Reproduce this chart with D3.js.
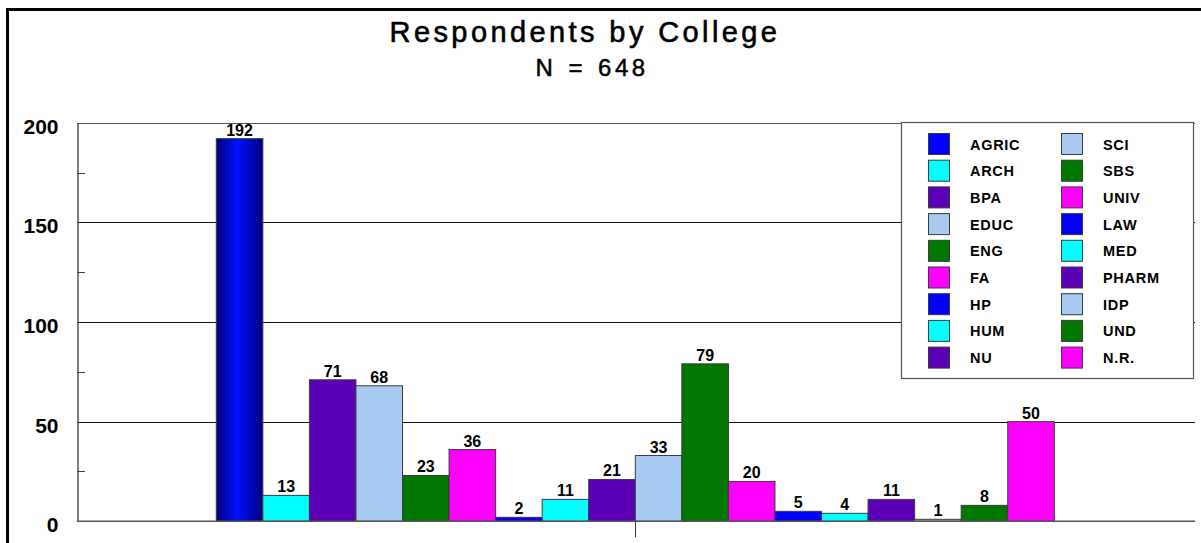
<!DOCTYPE html>
<html>
<head>
<meta charset="utf-8">
<script src="https://cdn.jsdelivr.net/npm/d3@7"></script>
<style>
  html, body { margin: 0; padding: 0; background: #fff; }
  svg { display: block; font-family: "Liberation Sans", Arial, sans-serif; }
</style>
</head>
<body>
<svg id="chart" width="1201" height="543"></svg>
<script>
// Colleges, in drawing order
const colleges = ["AGRIC", "ARCH", "BPA", "EDUC", "ENG", "FA", "HP", "HUM", "NU",
                  "SCI", "SBS", "UNIV", "LAW", "MED", "PHARM", "IDP", "UND", "N.R."];
// Respondent counts per college
const respondents = [192, 13, 71, 68, 23, 36, 2, 11, 21, 33, 79, 20, 5, 4, 11, 1, 8, 50];
// Repeating fill palette
const palette = ["#0000ff", "#00ffff", "#5c00b8", "#a6caf0", "#007800", "#ff00ff"];
// Value axis ticks
const majorTicks = [0, 50, 100, 150, 200];
const minorTicks = [25, 75, 125, 175];

const titleText = "Respondents by College";
const subtitleText = "N = 648";

const data = colleges.map((c, i) => ({ name: c, value: respondents[i], color: palette[i % palette.length] }));

const svg = d3.select("#chart");
const plot = { left: 77, right: 1195, top: 122.7, bottom: 521.3 };

const y = d3.scaleLinear().domain([0, 200]).range([plot.bottom, plot.top]);
const x = d3.scaleBand().domain(colleges).range([216.3, 1054.3]).padding(0);

// cylinder-style shading used on the first bar
const defs = svg.append("defs");
const grad = defs.append("linearGradient").attr("id", "shade").attr("x1", "0").attr("x2", "1").attr("y1", "0").attr("y2", "0");
grad.append("stop").attr("offset", "0%").attr("stop-color", "#00007a");
grad.append("stop").attr("offset", "45%").attr("stop-color", "#0010ff");
grad.append("stop").attr("offset", "100%").attr("stop-color", "#00007a");

// outer frame (left and top edges)
svg.append("line").attr("x1", 7.5).attr("x2", 7.5).attr("y1", 8).attr("y2", 543)
  .attr("stroke", "#000").attr("stroke-width", 3);
svg.append("line").attr("x1", 6).attr("x2", 1201).attr("y1", 9.5).attr("y2", 9.5)
  .attr("stroke", "#000").attr("stroke-width", 3);

// titles
svg.append("text").attr("x", 585).attr("y", 42).attr("text-anchor", "middle")
  .attr("font-size", 29).attr("letter-spacing", 3.4)
  .attr("stroke", "#000").attr("stroke-width", 0.6).text(titleText);
svg.append("text").attr("x", 592).attr("y", 76).attr("text-anchor", "middle")
  .attr("font-size", 24).attr("letter-spacing", 3.5).attr("word-spacing", 2)
  .attr("stroke", "#000").attr("stroke-width", 0.5).text(subtitleText);

// gridlines
svg.append("g").selectAll("line").data(majorTicks.filter(d => d > 0)).join("line")
  .attr("x1", plot.left).attr("x2", plot.right)
  .attr("y1", d => Math.round(y(d)) + 0.5).attr("y2", d => Math.round(y(d)) + 0.5)
  .attr("stroke", d => d === 200 ? "#555" : "#111").attr("stroke-width", 1);

// value axis
const yAxis = d3.axisLeft(y).tickValues(majorTicks).tickSize(0).tickPadding(19);
const gy = svg.append("g").attr("transform", `translate(${plot.left + 0.5},0)`).call(yAxis);
gy.select(".domain").attr("stroke", "#555").attr("stroke-width", 1.5);
gy.selectAll("text").attr("font-size", 21).attr("font-weight", "bold")
  .attr("font-family", "Liberation Sans, Arial, sans-serif").attr("fill", "#000")
  .attr("dy", "0.5em");
svg.append("g").selectAll("line").data(minorTicks).join("line")
  .attr("x1", plot.left).attr("x2", plot.left + 8)
  .attr("y1", d => Math.round(y(d)) + 0.5).attr("y2", d => Math.round(y(d)) + 0.5)
  .attr("stroke", "#444").attr("stroke-width", 1);

// bars
svg.append("g").selectAll("rect").data(data).join("rect")
  .attr("x", d => x(d.name))
  .attr("y", d => y(d.value))
  .attr("width", x.bandwidth())
  .attr("height", d => y(0) - y(d.value))
  .attr("fill", (d, i) => i === 0 ? "url(#shade)" : d.color)
  .attr("stroke", "#3a3a3a").attr("stroke-width", 1);

// value labels
svg.append("g").selectAll("text").data(data).join("text")
  .attr("x", d => x(d.name) + x.bandwidth() / 2)
  .attr("y", d => y(d.value) - 3)
  .attr("text-anchor", "middle")
  .attr("font-size", 16).attr("font-weight", "bold")
  .text(d => d.value);

// category axis: baseline with a single centre tick
svg.append("line").attr("x1", plot.left).attr("x2", plot.right)
  .attr("y1", plot.bottom).attr("y2", plot.bottom)
  .attr("stroke", "#555").attr("stroke-width", 1.5);
svg.append("line").attr("x1", 635.5).attr("x2", 635.5)
  .attr("y1", plot.bottom).attr("y2", plot.bottom + 16)
  .attr("stroke", "#333").attr("stroke-width", 1);

// legend
const legend = svg.append("g");
legend.append("rect").attr("x", 901.5).attr("y", 122.5).attr("width", 292).attr("height", 256)
  .attr("fill", "#fff").attr("stroke", "#555").attr("stroke-width", 1.2);
const rowsPerCol = 9;
const items = legend.selectAll("g.item").data(data).join("g").attr("class", "item")
  .attr("transform", (d, i) => {
    const col = Math.floor(i / rowsPerCol), row = i % rowsPerCol;
    return `translate(${928.5 + col * 133},${133.5 + row * 26.7})`;
  });
items.append("rect").attr("width", 21).attr("height", 21)
  .attr("fill", d => d.color).attr("stroke", "#3a3a3a").attr("stroke-width", 1);
items.append("text").attr("x", 41.5).attr("y", 16)
  .attr("font-size", 14.5).attr("font-weight", "bold").attr("letter-spacing", 0.7)
  .text(d => d.name);
</script>
</body>
</html>
